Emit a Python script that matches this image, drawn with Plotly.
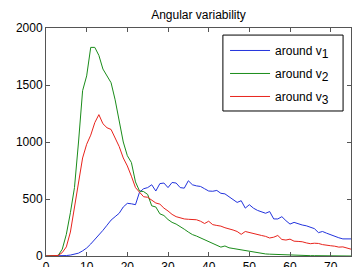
import plotly.graph_objects as go

angles = list(range(0, 76))

around_v1 = [0, 0, 0, 0, 2, 4, 8, 15, 25, 45, 70, 105, 145, 180, 225, 270, 315, 345, 375, 430,
             462, 458, 450, 560, 590, 600, 625, 570, 635, 640, 600, 645, 640, 600, 595, 660, 625, 615, 610, 590,
             570, 568, 575, 550, 545, 520, 495, 470, 485, 420, 450, 420, 400, 385, 375, 390, 325, 325, 345, 310,
             280, 295, 280, 272, 265, 250, 240, 205, 215, 200, 185, 170, 160, 150, 148, 150]

around_v2 = [0, 0, 0, 5, 60, 190, 380, 600, 1000, 1450, 1580, 1830, 1830, 1760, 1640, 1580, 1520, 1370, 1170, 1000,
             880, 820, 650, 570, 565, 540, 440, 430, 370, 355, 320, 295, 280, 260, 235, 210, 188, 175, 160, 138,
             125, 110, 95, 78, 88, 72, 66, 60, 50, 42, 38, 30, 24, 20, 18, 16, 14, 13, 11, 10,
             8, 7, 6, 5, 4, 3, 3, 2, 1, 1, 1, 0, 0, 0, 0, 0]

around_v3 = [0, 0, 0, 5, 30, 80, 210, 420, 650, 860, 980, 1060, 1170, 1240, 1160, 1125, 1110, 1040, 960, 860,
             790, 700, 600, 560, 520, 515, 490, 465, 455, 420, 395, 365, 345, 335, 325, 322, 320, 318, 305, 285,
             305, 275, 268, 262, 248, 240, 228, 215, 190, 215, 205, 198, 190, 180, 172, 158, 165, 180, 145, 140,
             148, 130, 128, 125, 115, 108, 112, 110, 100, 92, 90, 86, 78, 80, 72, 60]

x_ticks = [0, 10, 20, 30, 40, 50, 60, 70]
y_ticks = [0, 500, 1000, 1500, 2000]

series = [
    ("around v<sub><span style='font-size:12px'>1</span></sub>", around_v1, "#2233dd"),
    ("around v<sub><span style='font-size:12px'>2</span></sub>", around_v2, "#1a8c1a"),
    ("around v<sub><span style='font-size:12px'>3</span></sub>", around_v3, "#e8231c"),
]

fig = go.Figure()
for i, (name, vals, color) in enumerate(series):
    fig.add_trace(go.Scatter(x=angles, y=vals, mode="lines", name=name, legendgroup=f"g{i}",
                             line=dict(color=color, width=1)))

axis_common = dict(showgrid=False, zeroline=False, showline=True, linecolor="#555555",
                   linewidth=1, mirror="ticks", ticks="inside", ticklen=4, automargin=False,
                   tickcolor="#555555", tickfont=dict(size=12, color="#000000"))

fig.update_layout(
    width=354, height=259,
    margin=dict(l=38, r=11, t=20, b=11),
    paper_bgcolor="white", plot_bgcolor="white",
    font=dict(family="Liberation Sans, Arial, sans-serif", size=12, color="#000000"),
    title=dict(text="Angular variability", x=0.5, xref="paper", y=1 - 7 / 259, yref="container",
               yanchor="middle", pad=dict(t=0, b=0), font=dict(size=12), automargin=False),
    xaxis=dict(range=[0, 75], tickvals=x_ticks, **axis_common),
    yaxis=dict(range=[0, 2000], tickvals=y_ticks, **axis_common),
    legend=dict(x=0.587, y=0.965, xanchor="left", yanchor="top",
                bgcolor="rgba(0,0,0,0)", borderwidth=0, itemwidth=40,
                font=dict(size=12), tracegroupgap=4),
    shapes=[dict(type="rect", xref="paper", yref="paper", x0=0.580, x1=0.974, y0=0.636, y1=0.969,
                 line=dict(color="#000000", width=1), fillcolor="white", layer="above")],
    showlegend=True,
)

fig.write_html("out.html")
